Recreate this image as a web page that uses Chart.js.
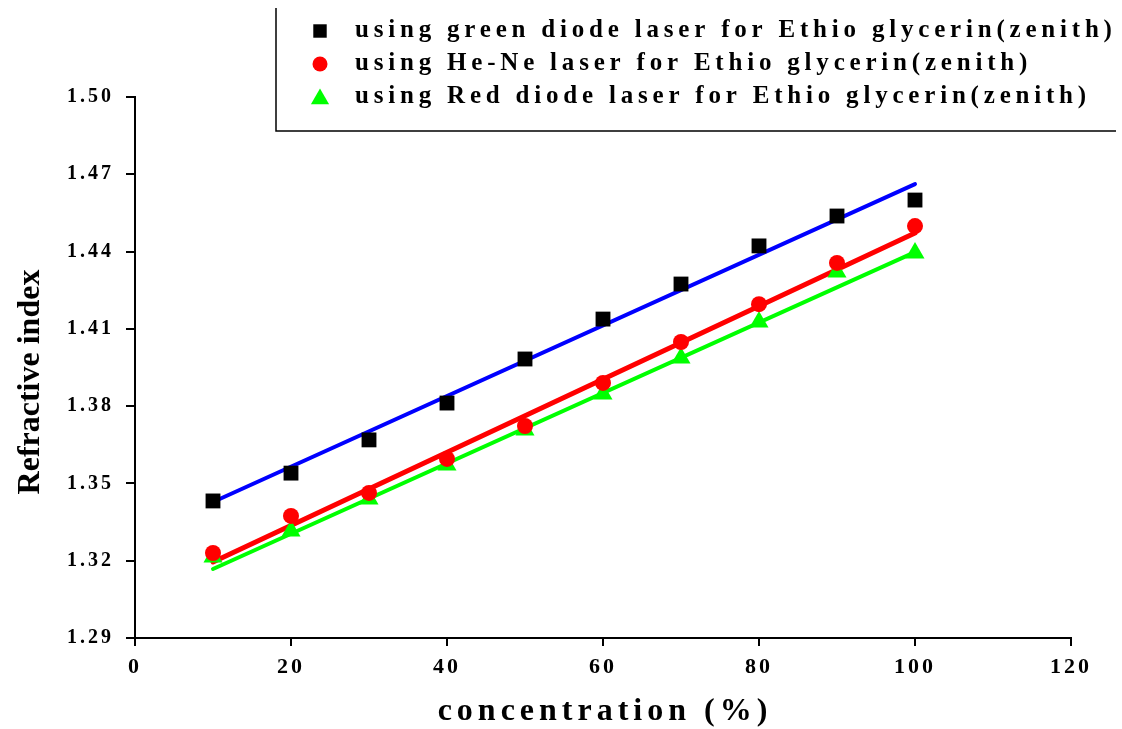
<!DOCTYPE html>
<html>
<head>
<meta charset="utf-8">
<script src="https://cdn.jsdelivr.net/npm/chart.js@4.4.1/dist/chart.umd.min.js"></script>
<style>
  html, body { margin: 0; padding: 0; background: #fff; }
  #wrap { width: 1122px; height: 729px; position: relative; }
</style>
</head>
<body>
<div id="wrap"><canvas id="chart"></canvas></div>
<script>
// concentration (%)
const concentration = [10, 20, 30, 40, 50, 60, 70, 80, 90, 100];

// measured refractive index
const greenDiode = [1.3432, 1.3540, 1.3669, 1.3812, 1.3983, 1.4138, 1.4274, 1.4422, 1.4538, 1.4600];
const heNe       = [1.3230, 1.3374, 1.3463, 1.3595, 1.3723, 1.3890, 1.4049, 1.4196, 1.4356, 1.4499];
const redDiode   = [1.3214, 1.3315, 1.3440, 1.3572, 1.3707, 1.3847, 1.3987, 1.4127, 1.4321, 1.4394];

// linear fit end points (x = 10 and x = 100)
const fitX = [10, 100];
const greenFit = [1.3428, 1.4662];
const heNeFit  = [1.3195, 1.4472];
const redFit   = [1.3168, 1.4398];

const xTicks = [0, 20, 40, 60, 80, 100, 120];
const yTicks = [1.29, 1.32, 1.35, 1.38, 1.41, 1.44, 1.47, 1.50];

const legendLabels = [
    'using green diode laser for Ethio glycerin(zenith)',
    'using He-Ne laser for Ethio glycerin(zenith)',
    'using Red diode laser for Ethio glycerin(zenith)'
];

const xTitle = 'concentration (%)';
const yTitle = 'Refractive index';

const COLORS = {
    square: '#000000',
    circle: '#ff0000',
    triangle: '#00ff00',
    blueLine: '#0000ff',
    redLine: '#ff0000',
    greenLine: '#00ff00'
};

const SERIF = '"Liberation Serif", "DejaVu Serif", serif';

const toPoints = (xs, ys) => xs.map((x, i) => ({ x, y: ys[i] }));

function markerSet(label, ys, color, style, radius) {
    return {
        label,
        data: toPoints(concentration, ys),
        showLine: false,
        pointStyle: style,
        pointRadius: radius,
        pointHoverRadius: radius,
        pointBackgroundColor: color,
        pointBorderColor: color,
        pointBorderWidth: 0,
        order: 1
    };
}

function fitSet(ys, color, width) {
    return {
        label: '',
        data: toPoints(fitX, ys),
        showLine: true,
        borderColor: color,
        borderWidth: width,
        borderCapStyle: 'round',
        pointRadius: 0,
        fill: false,
        order: 2
    };
}

// legend, axis titles and letter spaced tick labels
const decorPlugin = {
    id: 'decor',
    beforeDraw(chart) {
        chart.ctx.letterSpacing = '3px';
    },
    afterDraw(chart) {
        const ctx = chart.ctx;
        const area = chart.chartArea;
        ctx.save();
        ctx.fillStyle = '#000';

        // x title
        ctx.letterSpacing = '5px';
        ctx.font = 'bold 32px ' + SERIF;
        ctx.textAlign = 'center';
        ctx.textBaseline = 'middle';
        ctx.fillText(xTitle, (area.left + area.right) / 2 + 2, 712);

        // y title
        ctx.letterSpacing = '0px';
        ctx.save();
        ctx.translate(31, 382);
        ctx.rotate(-Math.PI / 2);
        ctx.font = 'bold 32px ' + SERIF;
        ctx.fillText(yTitle, 0, 0);
        ctx.restore();

        // legend box (left and bottom border)
        ctx.strokeStyle = '#000';
        ctx.lineWidth = 1.5;
        ctx.beginPath();
        ctx.moveTo(276, 8);
        ctx.lineTo(276, 131);
        ctx.lineTo(1116, 131);
        ctx.stroke();

        const markers = [
            { style: 'rect', color: COLORS.square, r: 9.5 },
            { style: 'circle', color: COLORS.circle, r: 7.5 },
            { style: 'triangle', color: COLORS.triangle, r: 10.5 }
        ];
        const rowY = [31, 64, 97];
        ctx.font = 'bold 25px ' + SERIF;
        ctx.textAlign = 'left';
        ctx.letterSpacing = '4.8px';
        legendLabels.forEach((txt, i) => {
            const m = markers[i];
            ctx.fillStyle = m.color;
            Chart.helpers.drawPoint(ctx, { pointStyle: m.style, radius: m.r, borderWidth: 0 }, 320, rowY[i] + (m.style === 'triangle' ? 2 : 0));
            ctx.fillStyle = '#000';
            ctx.fillText(txt, 355, rowY[i]);
        });
        ctx.restore();
    }
};

const ctx = document.getElementById('chart').getContext('2d');

new Chart(ctx, {
    type: 'scatter',
    data: {
        datasets: [
            markerSet(legendLabels[0], greenDiode, COLORS.square, 'rect', 10.5),
            markerSet(legendLabels[1], heNe, COLORS.circle, 'circle', 8),
            markerSet(legendLabels[2], redDiode, COLORS.triangle, 'triangle', 11),
            fitSet(greenFit, COLORS.blueLine, 4),
            fitSet(heNeFit, COLORS.redLine, 5),
            fitSet(redFit, COLORS.greenLine, 4)
        ]
    },
    options: {
        responsive: true,
        maintainAspectRatio: false,
        animation: false,
        layout: { padding: { top: 97, right: 51, bottom: 0, left: 0 } },
        plugins: {
            legend: { display: false },
            tooltip: { enabled: false }
        },
        scales: {
            x: {
                type: 'linear',
                min: 0,
                max: 120,
                afterFit: s => { s.height = 91; },
                afterBuildTicks: s => { s.ticks = xTicks.map(v => ({ value: v })); },
                border: { display: true, color: '#000', width: 2 },
                grid: { drawOnChartArea: false, drawTicks: true, tickLength: 8, color: '#000', lineWidth: 2 },
                ticks: {
                    color: '#000',
                    padding: 8,
                    maxRotation: 0,
                    font: { family: SERIF, size: 22, weight: 'bold' },
                    callback: v => String(v)
                }
            },
            y: {
                type: 'linear',
                min: 1.29,
                max: 1.50,
                afterFit: s => { s.width = 135; },
                afterBuildTicks: s => { s.ticks = yTicks.map(v => ({ value: v })); },
                border: { display: true, color: '#000', width: 2 },
                grid: { drawOnChartArea: false, drawTicks: true, tickLength: 9, color: '#000', lineWidth: 2 },
                ticks: {
                    color: '#000',
                    padding: 12,
                    font: { family: SERIF, size: 20, weight: 'bold' },
                    callback: v => v.toFixed(2)
                }
            }
        }
    },
    plugins: [decorPlugin]
});
</script>
</body>
</html>
